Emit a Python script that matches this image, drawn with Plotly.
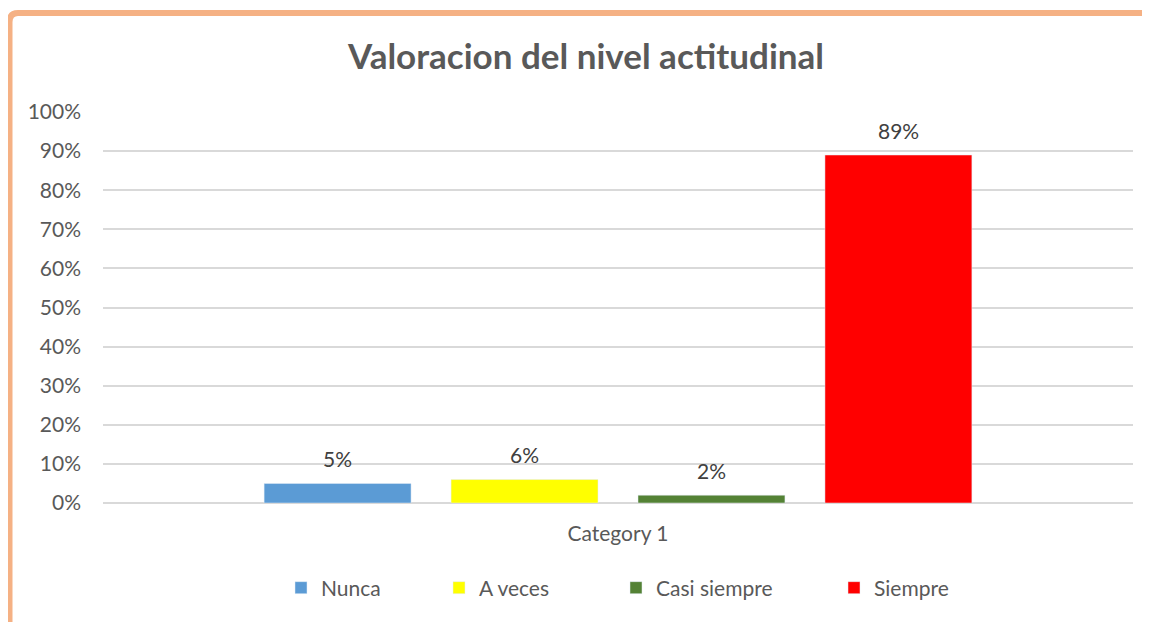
import plotly.graph_objects as go

# data
categories = ['Category 1']
series_names = ['Nunca', 'A veces', 'Casi siempre', 'Siempre']
series_values = [0.05, 0.06, 0.02, 0.89]
series_colors = ['#5B9BD5', '#FFFF00', '#548235', '#FF0000']
y_ticks = [0, 0.1, 0.2, 0.3, 0.4, 0.5, 0.6, 0.7, 0.8, 0.9, 1.0]

# page has an 8px body margin, so figure coords = page coords - 8
W, H = 1150, 622
ML, MR, MT, MB = 95, 25, 104, 127
FONT = 'Lato'
BARGAP = 0.274
BARGROUPGAP = 0.214

PW = W - ML - MR
PH = H - MT - MB

def px2paper(x, y):
    # pixel in figure -> paper coords of plot area
    return ((x - ML) / PW, (H - MB - y) / PH)

fig = go.Figure()
legend_ids = ['legend', 'legend2', 'legend3', 'legend4']
for name, val, col, lg in zip(series_names, series_values, series_colors, legend_ids):
    fig.add_trace(go.Bar(
        x=categories,
        y=[val],
        name=name,
        marker_color=col,
        legend=lg,
        showlegend=True,
    ))

# data labels sit a bit higher than plotly's "outside" text
n = len(series_values)
slot = (1 - BARGAP) / n
for i, val in enumerate(series_values):
    fig.add_annotation(
        x=-(1 - BARGAP) / 2 + slot * (i + 0.5),
        y=val,
        text='{:.0%}'.format(val),
        showarrow=False,
        yanchor='middle',
        yshift=25,
        font=dict(size=21, color='#404040', family=FONT),
    )

# orange frame (left and top edge)
x0, y0 = px2paper(1.5, 640)
x1, y1 = px2paper(1.5, 14)
x2, y2 = px2paper(10, 5)
x3, y3 = px2paper(1160, 5)
xc, yc = px2paper(1.5, 5)
frame = 'M {} {} L {} {} Q {} {} {} {} L {} {}'.format(x0, y0, x1, y1, xc, yc, x2, y2, x3, y3)

legend_style = dict(
    orientation='h',
    xanchor='left',
    yanchor='middle',
    y=(H - MB - 580) / PH,
    font=dict(size=21, color='#595959', family=FONT),
    bgcolor='rgba(0,0,0,0)',
)
legend_x = [273, 431, 608, 826]

fig.update_layout(
    width=W, height=H,
    margin=dict(l=ML, r=MR, t=MT, b=MB),
    paper_bgcolor='white',
    plot_bgcolor='white',
    showlegend=True,
    barmode='group',
    bargap=BARGAP,
    bargroupgap=BARGROUPGAP,
    font=dict(family=FONT, color='#595959'),
    title=dict(
        text='<b>Valoracion del nivel actitudinal</b>',
        x=578 / W, xanchor='center',
        y=1 - 49 / H, yanchor='middle',
        font=dict(size=35, color='#595959', family=FONT),
    ),
    xaxis=dict(
        showgrid=False,
        showline=False,
        tickfont=dict(size=21, color='#595959'),
        ticklabelstandoff=16,
    ),
    yaxis=dict(
        range=[0, 1],
        tickvals=y_ticks,
        tickformat='.0%',
        showgrid=True,
        gridcolor='#D9D9D9',
        gridwidth=1.5,
        zeroline=True,
        zerolinecolor='#D9D9D9',
        zerolinewidth=1.5,
        tickfont=dict(size=21, color='#595959'),
        ticklabelstandoff=21,
    ),
    shapes=[dict(
        type='path', path=frame, xref='paper', yref='paper',
        line=dict(color='#F5B184', width=6),
        layer='above',
    )],
)

for lg, lx in zip(legend_ids, legend_x):
    fig.update_layout({lg: dict(legend_style, x=(lx - ML) / PW)})

fig.write_html('out.html')
